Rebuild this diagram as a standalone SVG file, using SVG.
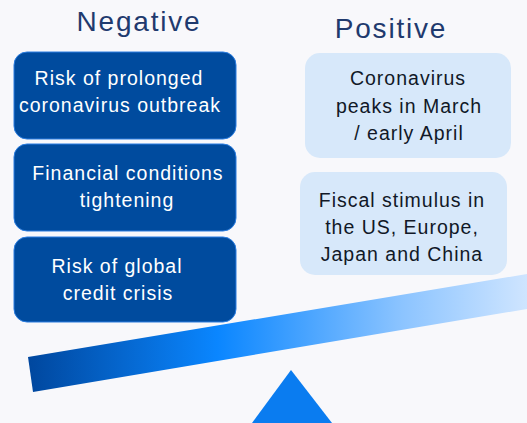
<svg xmlns="http://www.w3.org/2000/svg" width="527" height="423" viewBox="0 0 527 423">
<defs>
<linearGradient id="beamGrad" x1="28" y1="0" x2="527" y2="0" gradientUnits="userSpaceOnUse">
<stop offset="0" stop-color="#00479e"/>
<stop offset="0.38" stop-color="#0a86ff"/>
<stop offset="0.75" stop-color="#8cc4ff"/>
<stop offset="1" stop-color="#cfe5ff"/>
</linearGradient>
<style>
.title{font-family:"Liberation Sans",Arial,sans-serif;font-size:28px;letter-spacing:1.8px;fill:#1f3a6e;text-anchor:middle}
.neg rect{fill:#004b9e;stroke:#2a7de0;stroke-width:1}
.neg text{font-family:"Liberation Sans",Arial,sans-serif;font-size:19.5px;letter-spacing:1px;fill:#ffffff;text-anchor:middle}
.pos rect{fill:#d7e8fa}
.pos text{font-family:"Liberation Sans",Arial,sans-serif;font-size:19.5px;letter-spacing:1px;fill:#111827;text-anchor:middle}
</style>
</defs>
<rect width="527" height="423" fill="#f8f8fb"/>
<text class="title" x="139" y="31">Negative</text>
<text class="title" x="391" y="38">Positive</text>
<g id="neg1" class="neg">
<rect x="14" y="52" width="222" height="87" rx="13"/>
<text x="119" y="85">Risk of prolonged</text>
<text x="120" y="112">coronavirus outbreak</text>
</g>
<g id="neg2" class="neg">
<rect x="14" y="144" width="222" height="87" rx="13"/>
<text x="128" y="180">Financial conditions</text>
<text x="127" y="207">tightening</text>
</g>
<g id="neg3" class="neg">
<rect x="14" y="237" width="222" height="85" rx="13"/>
<text x="117" y="273">Risk of global</text>
<text x="118" y="300">credit crisis</text>
</g>
<g id="pos1" class="pos">
<rect x="305" y="53" width="206" height="105" rx="15"/>
<text x="408" y="85">Coronavirus</text>
<text x="409" y="113">peaks in March</text>
<text x="409" y="140">/ early April</text>
</g>
<g id="pos2" class="pos">
<rect x="300" y="172" width="207" height="103" rx="15"/>
<text x="402" y="207">Fiscal stimulus in</text>
<text x="402" y="234">the US, Europe,</text>
<text x="402" y="261">Japan and China</text>
</g>
<g id="scale">
<polygon points="28,357 527,274 527,309 33,392" fill="url(#beamGrad)"/>
<polygon points="291,370 332,423 252,423" fill="#0a7cf0"/>
</g>
</svg>
